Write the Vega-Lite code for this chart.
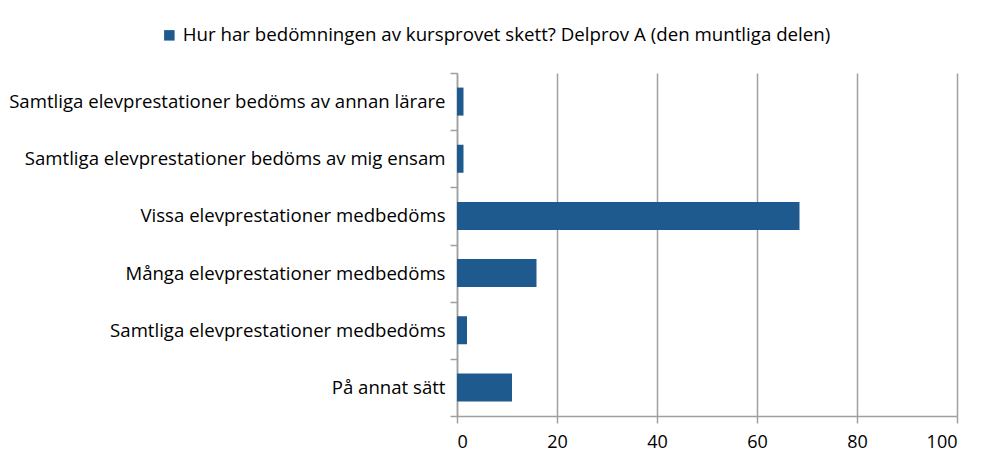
{
  "$schema": "https://vega.github.io/schema/vega-lite/v6.json",
  "width": 500,
  "height": 343,
  "autosize": {"type": "none"},
  "padding": {"left": 457, "top": 73, "right": 27, "bottom": 40},
  "background": "white",
  "config": {"view": {"stroke": null}, "font": "Open Sans"},
  "data": {
    "values": [
      {"category": "Samtliga elevprestationer bedöms av annan lärare", "value": 1.3, "series": "Hur har bedömningen av kursprovet skett? Delprov A (den muntliga delen)"},
      {"category": "Samtliga elevprestationer bedöms av mig ensam", "value": 1.3, "series": "Hur har bedömningen av kursprovet skett? Delprov A (den muntliga delen)"},
      {"category": "Vissa elevprestationer medbedöms", "value": 68.5, "series": "Hur har bedömningen av kursprovet skett? Delprov A (den muntliga delen)"},
      {"category": "Många elevprestationer medbedöms", "value": 15.9, "series": "Hur har bedömningen av kursprovet skett? Delprov A (den muntliga delen)"},
      {"category": "Samtliga elevprestationer medbedöms", "value": 2.0, "series": "Hur har bedömningen av kursprovet skett? Delprov A (den muntliga delen)"},
      {"category": "På annat sätt", "value": 11.0, "series": "Hur har bedömningen av kursprovet skett? Delprov A (den muntliga delen)"}
    ]
  },
  "mark": {"type": "bar", "height": {"band": 0.49}},
  "encoding": {
    "y": {
      "field": "category",
      "type": "nominal",
      "sort": null,
      "scale": {"paddingInner": 0, "paddingOuter": 0},
      "axis": {
        "title": null,
        "labelFontSize": 18.6,
        "labelColor": "#000000",
        "labelLimit": 500,
        "domainColor": "#a0a0a0",
        "domainWidth": 1.5,
        "tickColor": "#a0a0a0",
        "tickWidth": 1.5,
        "tickBand": "extent",
        "tickSize": 7,
        "labelPadding": 5,
        "grid": false
      }
    },
    "x": {
      "field": "value",
      "type": "quantitative",
      "scale": {"domain": [0, 100], "nice": false},
      "axis": {
        "title": null,
        "values": [0, 20, 40, 60, 80, 100],
        "grid": true,
        "gridColor": "#a0a0a0",
        "gridWidth": 1.5,
        "domainColor": "#a0a0a0",
        "domainWidth": 1.5,
        "tickColor": "#a0a0a0",
        "tickWidth": 1.5,
        "tickSize": 7,
        "labelFontSize": 18,
        "labelColor": "#000000",
        "labelPadding": 10
      }
    },
    "color": {
      "field": "series",
      "type": "nominal",
      "scale": {"range": ["#1F5A8E"]},
      "legend": {
        "title": null,
        "orient": "none",
        "legendX": -297,
        "legendY": -47,
        "padding": 0,
        "symbolType": "square",
        "symbolSize": 110,
        "symbolStrokeWidth": 0,
        "labelFontSize": 18.7,
        "labelLimit": 900,
        "labelColor": "#000000"
      }
    }
  }
}
